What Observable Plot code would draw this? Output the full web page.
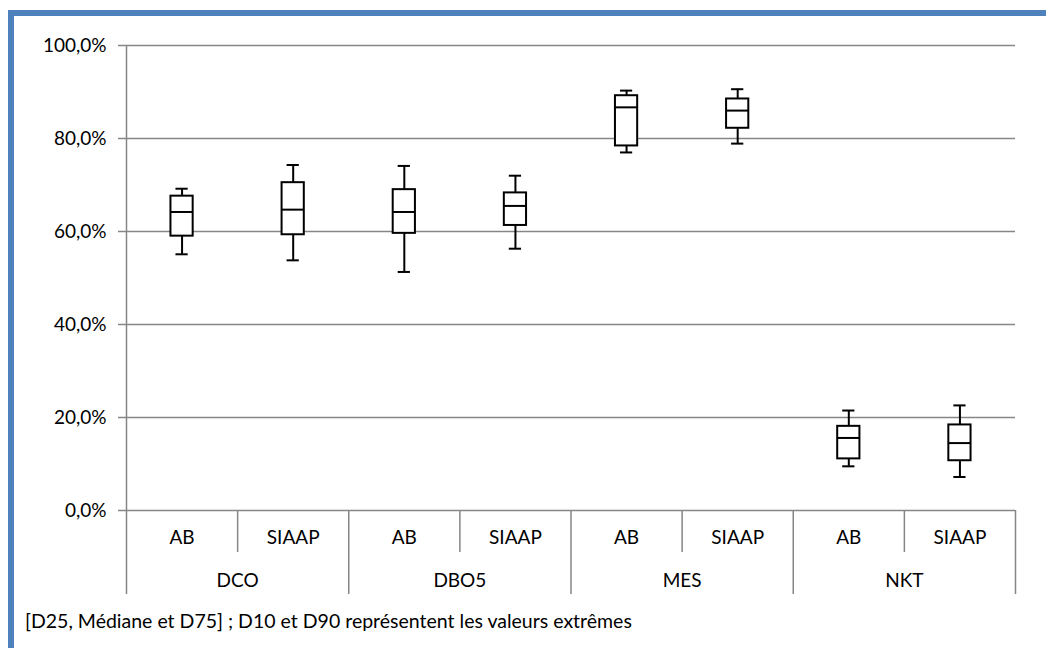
<!DOCTYPE html>
<html>
<head>
<meta charset="utf-8">
<script src="https://cdn.jsdelivr.net/npm/d3@7"></script>
<script src="https://cdn.jsdelivr.net/npm/@observablehq/plot@0.6"></script>
<style>
  html, body { margin: 0; padding: 0; background: #fff; width: 1046px; height: 648px; overflow: hidden; }
  #frame { position: absolute; left: 8px; top: 10px; right: 0; bottom: 0;
           border-top: 6px solid #4F81BD; border-left: 6px solid #4F81BD; pointer-events: none; }
  #chart { position: absolute; left: 0; top: 0; }
  #caption { position: absolute; left: 25px; top: 609px; font-family: Lato, sans-serif; font-size: 19.5px; color: #000; white-space: nowrap; }
</style>
</head>
<body>
<div id="frame"></div>
<div id="chart"></div>
<div id="caption">[D25, Médiane et D75] ; D10 et D90 représentent les valeurs extrêmes</div>
<script>
const groups = ["DCO", "DBO5", "MES", "NKT"];
const seriesNames = ["AB", "SIAAP"];
const d10    = [55.1, 53.8, 51.3, 56.3, 77.0, 78.9,  9.5,  7.2];
const d25    = [59.0, 59.3, 59.6, 61.3, 78.4, 82.2, 11.1, 10.7];
const median = [64.2, 64.7, 64.2, 65.5, 86.7, 86.0, 15.6, 14.5];
const d75    = [67.6, 70.5, 69.0, 68.3, 89.2, 88.5, 18.1, 18.4];
const d90    = [69.2, 74.3, 74.1, 72.0, 90.3, 90.6, 21.5, 22.6];
const yTicks = [0, 20, 40, 60, 80, 100];

const rows = d10.map((_, i) => ({
  group: groups[Math.floor(i / 2)],
  series: seriesNames[i % 2],
  pos: i + 0.5,
  d10: d10[i], d25: d25[i], median: median[i], d75: d75[i], d90: d90[i]
}));
const groupRows = groups.map((g, j) => ({group: g, pos: 2 * j + 1}));

const halfBox = 0.1;
const halfCap = 0.055;
const grid = "#868686";
const fmt = d => d.toFixed(1).replace(".", ",") + "%";

const chart = Plot.plot({
  width: 1046,
  height: 600,
  marginLeft: 126,
  marginRight: 31,
  marginTop: 45,
  marginBottom: 90,
  x: {domain: [0, 8], axis: null},
  y: {domain: [0, 100], axis: null},
  style: {fontFamily: "Lato, sans-serif", fontSize: "19px", color: "#000", background: "transparent", overflow: "visible"},
  marks: [
    Plot.ruleY(yTicks, {x1: 0, x2: 8, stroke: grid, strokeWidth: 1.5}),
    Plot.axisY(yTicks, {tickSize: 8, tickPadding: 12, tickFormat: fmt, stroke: grid, strokeWidth: 1.5, strokeOpacity: 1, label: null, fontSize: 19, fill: "#000"}),
    Plot.ruleX([0], {y1: 100, y2: 0, insetBottom: -84, stroke: grid, strokeWidth: 1.5}),
    Plot.ruleX([2, 4, 6, 8], {y1: 0, y2: 0, insetBottom: -84, stroke: grid, strokeWidth: 1.5}),
    Plot.ruleX([1, 3, 5, 7], {y1: 0, y2: 0, insetBottom: -42, stroke: grid, strokeWidth: 1.5}),
    Plot.ruleX(rows, {x: "pos", y1: "d10", y2: "d25", stroke: "#000", strokeWidth: 2}),
    Plot.ruleX(rows, {x: "pos", y1: "d75", y2: "d90", stroke: "#000", strokeWidth: 2}),
    Plot.ruleY(rows, {y: "d10", x1: d => d.pos - halfCap, x2: d => d.pos + halfCap, stroke: "#000", strokeWidth: 2}),
    Plot.ruleY(rows, {y: "d90", x1: d => d.pos - halfCap, x2: d => d.pos + halfCap, stroke: "#000", strokeWidth: 2}),
    Plot.rect(rows, {x1: d => d.pos - halfBox, x2: d => d.pos + halfBox, y1: "d25", y2: "d75", fill: "#fff", stroke: "#000", strokeWidth: 2}),
    Plot.ruleY(rows, {y: "median", x1: d => d.pos - halfBox, x2: d => d.pos + halfBox, stroke: "#000", strokeWidth: 2}),
    Plot.text(rows, {x: "pos", y: 0, text: "series", dy: 27, fontSize: 19, fill: "#000"}),
    Plot.text(groupRows, {x: "pos", y: 0, text: "group", dy: 70, fontSize: 19, fill: "#000"})
  ]
});
document.getElementById("chart").appendChild(chart);
</script>
</body>
</html>
